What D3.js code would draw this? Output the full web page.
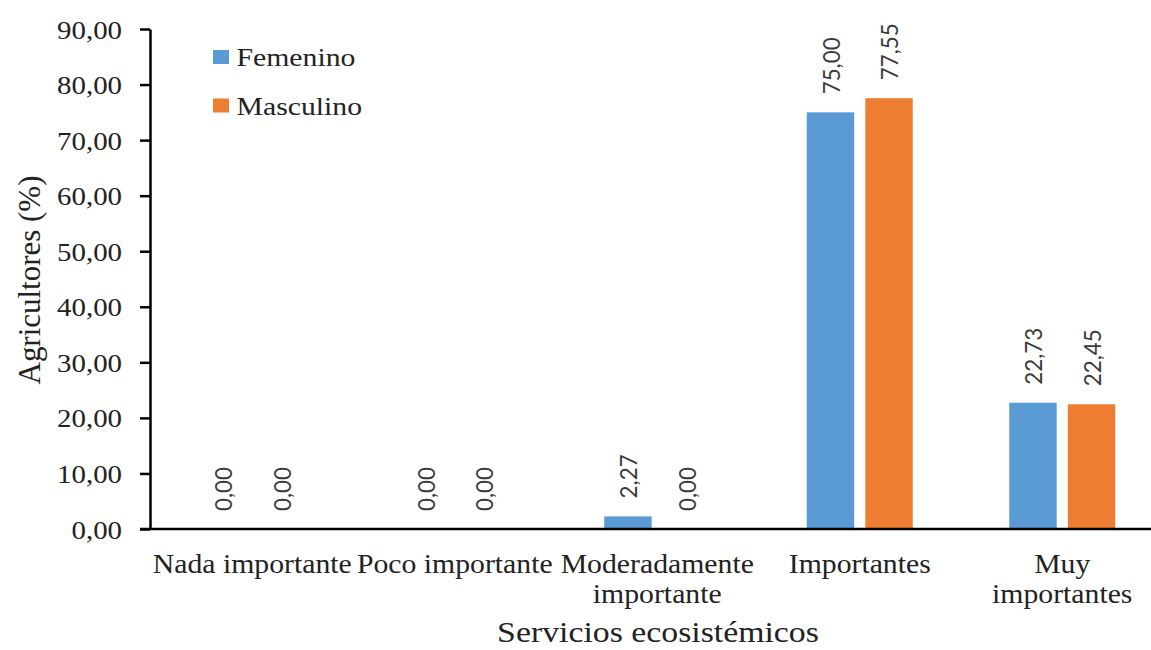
<!DOCTYPE html>
<html><head><meta charset="utf-8">
<script src="https://cdn.jsdelivr.net/npm/d3@7"></script>
<style>body{margin:0;background:#fff}svg{display:block}</style>
</head><body>
<script>
const categories = [["Nada importante"],["Poco importante"],["Moderadamente","importante"],["Importantes"],["Muy","importantes"]];
const seriesNames = ["Femenino","Masculino"];
const femenino = [0.00, 0.00, 2.27, 75.00, 22.73];
const masculino = [0.00, 0.00, 0.00, 77.55, 22.45];
const yTicks = [0,10,20,30,40,50,60,70,80,90];
const colors = ["#5B9BD5","#ED7D31"];
const seriesValues = [femenino, masculino];

const W = 1151, H = 650;
const svg = d3.select("body").append("svg").attr("width", W).attr("height", H);
const serif = "'Liberation Serif','Times New Roman',serif";
const sans = "Lato,'Liberation Sans',sans-serif";

// horizontal stretch so that a sample string reaches a target width
function stretchFor(sample, family, size, target){
  const t = svg.append("text").attr("font-family", family).attr("font-size", size).text(sample);
  const w = t.node().getComputedTextLength();
  t.remove();
  return w > 0 ? target / w : 1;
}

const x0 = d3.scaleBand().domain(d3.range(categories.length)).range([151, 1163.5]).padding(0);
const bw = x0.bandwidth();
const x1 = d3.scaleBand().domain(seriesNames).range([bw/2 - 53, bw/2 + 53]).paddingInner(0.19);
const y = d3.scaleLinear().domain([0, 90]).range([529, 29]);
const fmt = v => d3.format(".2f")(v).replace(".", ",");

// bars + data labels
const dataSx = stretchFor("75,00", sans, 24, 57);
const groups = svg.append("g").selectAll("g").data(categories).join("g")
  .attr("transform", (d,i) => `translate(${x0(i)},0)`);
groups.each(function(d, i){
  const g = d3.select(this);
  seriesNames.forEach((s, k) => {
    const v = seriesValues[k][i];
    g.append("rect").attr("x", x1(s)).attr("width", x1.bandwidth())
      .attr("y", y(v)).attr("height", y(0) - y(v)).attr("fill", colors[k]);
    const cx = x1(s) + x1.bandwidth()/2 + 1;
    g.append("text").attr("transform", `translate(${cx},${y(v) - 18}) rotate(-90) scale(${dataSx},1)`)
      .attr("dy", "0.35em").attr("text-anchor", "start")
      .attr("font-family", sans).attr("font-size", 24).attr("fill", "#3a3a3a")
      .text(fmt(v));
  });
});

// y axis
const tickSx = stretchFor("90,00", serif, 25, 65);
const yAxis = svg.append("g").attr("transform", "translate(150,0)")
  .call(d3.axisLeft(y).tickValues(yTicks).tickSize(10).tickSizeOuter(0).tickFormat(fmt));
yAxis.select(".domain").attr("stroke", "#000").attr("stroke-width", 2.5);
yAxis.selectAll(".tick line").attr("stroke", "#000").attr("stroke-width", 2.5);
yAxis.selectAll(".tick text").each(function(){
  d3.select(this).attr("x", null).attr("dy", null)
   .attr("transform", `translate(-28,9) scale(${tickSx},1)`)
   .attr("font-family", serif).attr("font-size", 25).attr("fill", "#222");
});

// x axis line
svg.append("g").attr("transform", `translate(0,${y(0)})`)
  .call(d3.axisBottom(x0).tickSize(0).tickFormat(""))
  .call(g => g.select(".domain").attr("stroke","#000").attr("stroke-width",2.5).attr("d","M140,0H1163"));

// category labels
const catSx = stretchFor("Nada importante", serif, 28, 199);
const cl = svg.append("g");
categories.forEach((lines, i) => {
  lines.forEach((ln, j) => {
    cl.append("text")
      .attr("transform", `translate(${x0(i) + bw/2},${573 + j*30}) scale(${catSx},1)`)
      .attr("text-anchor", "middle").attr("font-family", serif).attr("font-size", 28).attr("fill", "#222")
      .text(ln);
  });
});

// axis titles
const xtSx = stretchFor("Servicios ecosistémicos", serif, 30, 322);
svg.append("text").attr("transform", `translate(658,642) scale(${xtSx},1)`)
  .attr("text-anchor","middle").attr("font-family", serif).attr("font-size", 30).attr("fill","#222")
  .text("Servicios ecosistémicos");
const ytSize = 30 * stretchFor("Agricultores (%)", serif, 30, 209);
svg.append("text").attr("transform", `translate(40,280) rotate(-90)`)
  .attr("text-anchor","middle").attr("font-family", serif).attr("font-size", ytSize).attr("fill","#222")
  .text("Agricultores (%)");

// legend
const lgSx = stretchFor("Femenino", serif, 26, 119);
const lg = svg.append("g").attr("transform","translate(213,50)");
seriesNames.forEach((s,k) => {
  lg.append("rect").attr("x",0).attr("y",k*48.5).attr("width",16).attr("height",14).attr("fill",colors[k]);
  lg.append("text").attr("transform",`translate(23.5,${k*48.5+16}) scale(${lgSx},1)`)
    .attr("font-family",serif).attr("font-size",26).attr("fill","#222").text(s);
});
</script>
</body></html>
